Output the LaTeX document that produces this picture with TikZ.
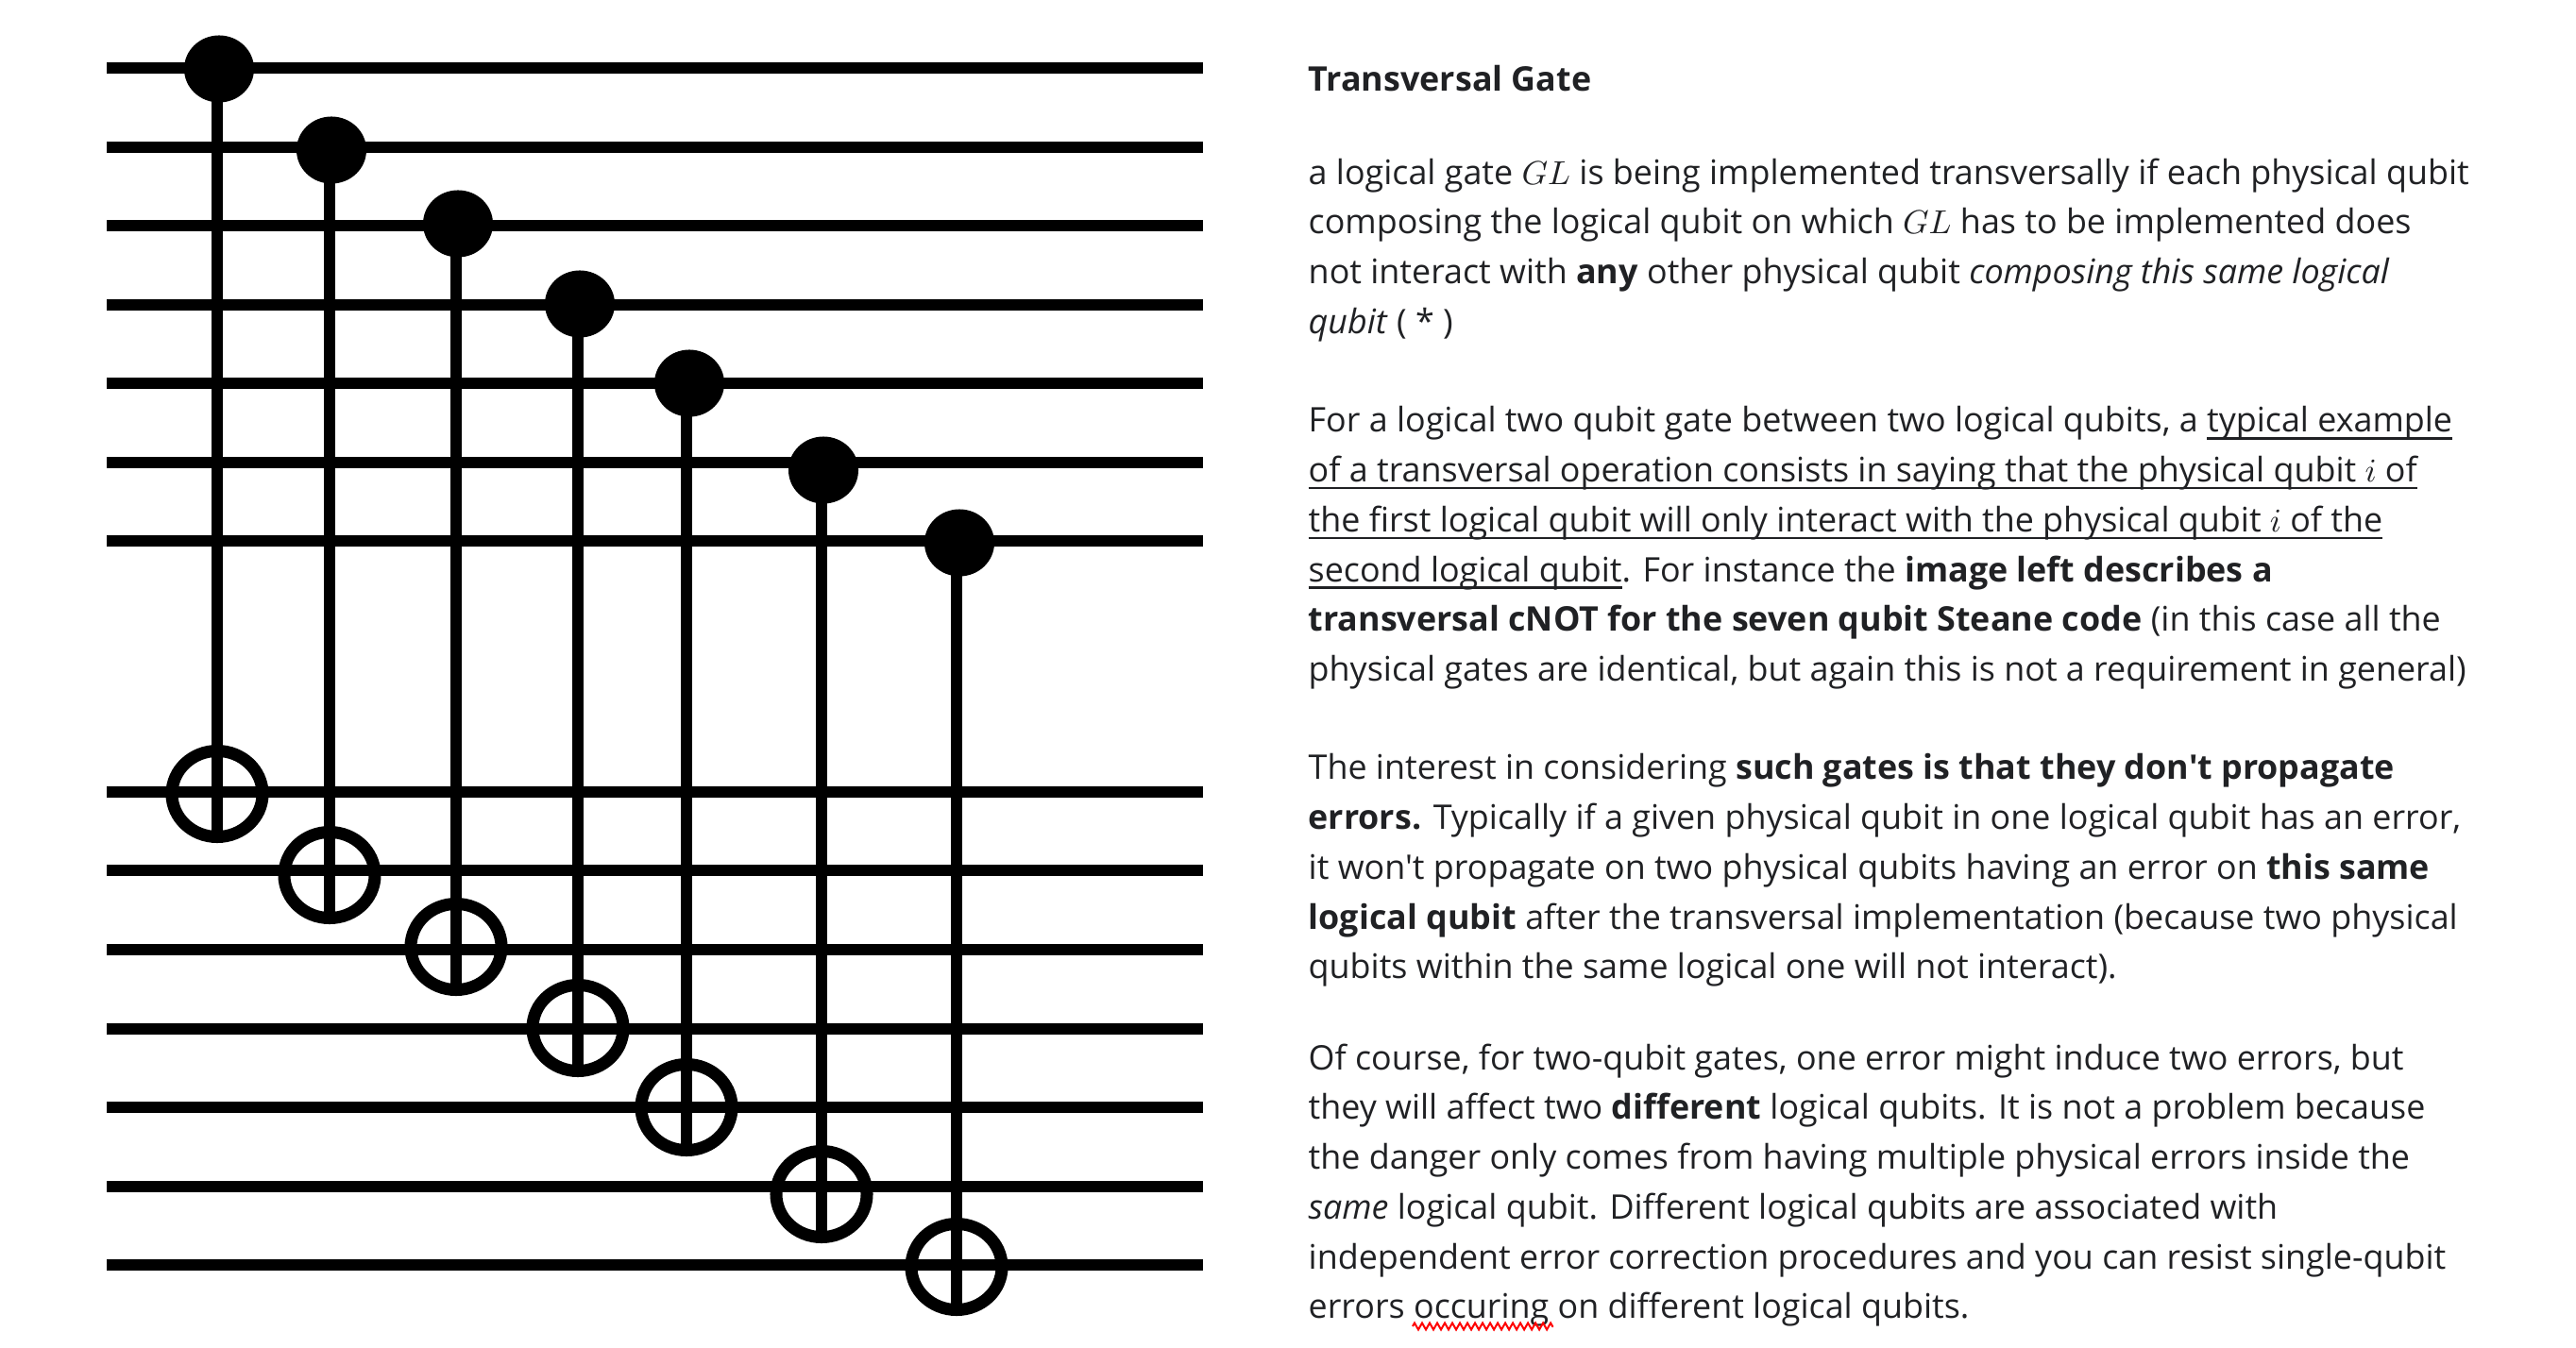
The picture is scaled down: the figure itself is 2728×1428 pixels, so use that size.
\documentclass[tikz,border=0pt]{standalone}
\usepackage{fontspec}
\setmainfont[Ligatures=TeXOff]{Open Sans}
\usetikzlibrary{positioning,shapes.geometric,decorations.pathmorphing}
\definecolor{textgrey}{RGB}{32,33,36}
\newsavebox{\ulinebox}
\newcommand{\ulined}[1]{\sbox{\ulinebox}{#1}\usebox{\ulinebox}\llap{\rule[-2.2pt]{\wd\ulinebox}{0.7pt}}}
\tikzset{
  wire/.style={line width=0.125cm},
  ctrl/.style={ellipse, fill=black, inner sep=0pt, minimum width=0.74cm, minimum height=0.71cm},
  target/.style={ellipse, draw=black, line width=0.13cm, inner sep=0pt, minimum width=0.96cm, minimum height=0.91cm},
  para/.style={anchor=north west, align=left, inner sep=0pt, text=textgrey,
    font=\fontsize{10.2}{15}\selectfont}
}

\begin{document}
\begin{tikzpicture}[x=0.01cm, y=-0.01cm]
    \useasboundingbox (0,0) rectangle (2728,1428);
    % Upper block
    \draw[wire] (113,72) coordinate (u1l) -- (1274,72) coordinate (u1r);
    \draw[wire] (113,156) coordinate (u2l) -- (1274,156) coordinate (u2r);
    \draw[wire] (113,239) coordinate (u3l) -- (1274,239) coordinate (u3r);
    \draw[wire] (113,323) coordinate (u4l) -- (1274,323) coordinate (u4r);
    \draw[wire] (113,406) coordinate (u5l) -- (1274,406) coordinate (u5r);
    \draw[wire] (113,490) coordinate (u6l) -- (1274,490) coordinate (u6r);
    \draw[wire] (113,573) coordinate (u7l) -- (1274,573) coordinate (u7r);
    % Lower block
    \draw[wire] (113,839) coordinate (d1l) -- (1274,839) coordinate (d1r);
    \draw[wire] (113,922) coordinate (d2l) -- (1274,922) coordinate (d2r);
    \draw[wire] (113,1006) coordinate (d3l) -- (1274,1006) coordinate (d3r);
    \draw[wire] (113,1090) coordinate (d4l) -- (1274,1090) coordinate (d4r);
    \draw[wire] (113,1173) coordinate (d5l) -- (1274,1173) coordinate (d5r);
    \draw[wire] (113,1257) coordinate (d6l) -- (1274,1257) coordinate (d6r);
    \draw[wire] (113,1340) coordinate (d7l) -- (1274,1340) coordinate (d7r);
    % Controls
    \node[ctrl] (c1) at (232,73) {};
    \node[ctrl] (c2) at (351,159) {};
    \node[ctrl] (c3) at (485,237) {};
    \node[ctrl] (c4) at (614,322) {};
    \node[ctrl] (c5) at (730,406) {};
    \node[ctrl] (c6) at (872,498) {};
    \node[ctrl] (c7) at (1016,575) {};
    % Targets
    \node[target] (t1) at (230,841) {};
    \node[target] (t2) at (349,927) {};
    \node[target] (t3) at (483,1003) {};
    \node[target] (t4) at (612,1089) {};
    \node[target] (t5) at (727,1173) {};
    \node[target] (t6) at (870,1265) {};
    \node[target] (t7) at (1013,1342) {};
    % cNOT lines
    \draw[wire] (t1.south) -- (t1.south |- c1);
    \draw[wire] (t2.south) -- (t2.south |- c2);
    \draw[wire] (t3.south) -- (t3.south |- c3);
    \draw[wire] (t4.south) -- (t4.south |- c4);
    \draw[wire] (t5.south) -- (t5.south |- c5);
    \draw[wire] (t6.south) -- (t6.south |- c6);
    \draw[wire] (t7.south) -- (t7.south |- c7);
    % Text
    \node[para] (title) at (1385,69) {\textbf{Transversal Gate}};
    \node[para] (p1) at (1385,167) {a logical gate $GL$ is being implemented transversally if each physical qubit\\
      composing the logical qubit on which $GL$ has to be implemented does\\
      not interact with \textbf{any} other physical qubit \textit{composing this same logical}\\
      \textit{qubit} ( * )};
    \node[para] (p2) at (1385,430) {For a logical two qubit gate between two logical qubits, a \ulined{typical example}\\
      \ulined{of a transversal operation consists in saying that the physical qubit $i$ of}\\
      \ulined{the first logical qubit will only interact with the physical qubit $i$ of the}\\
      \ulined{second logical qubit}. For instance the \textbf{image left describes a}\\
      \textbf{transversal cNOT for the seven qubit Steane code} (in this case all the\\
      physical gates are identical, but again this is not a requirement in general)};
    \node[para] (p3) at (1385,798) {The interest in considering \textbf{such gates is that they don't propagate}\\
      \textbf{errors.} Typically if a given physical qubit in one logical qubit has an error,\\
      it won't propagate on two physical qubits having an error on \textbf{this same}\\
      \textbf{logical qubit} after the transversal implementation (because two physical\\
      qubits within the same logical one will not interact).};
    \node[para] (p4) at (1385,1105) {Of course, for two-qubit gates, one error might induce two errors, but\\
      they will affect two \textbf{different} logical qubits. It is not a problem because\\
      the danger only comes from having multiple physical errors inside the\\
      \textit{same} logical qubit. Different logical qubits are associated with\\
      independent error correction procedures and you can resist single-qubit\\
      errors occuring on different logical qubits.};
    % Spelling mark
    \draw[red, line width=0.02cm, decorate, decoration={zigzag, amplitude=0.035cm, segment length=0.08cm}] (1496,1405) -- (1645,1405);
  \end{tikzpicture}
\end{document}
